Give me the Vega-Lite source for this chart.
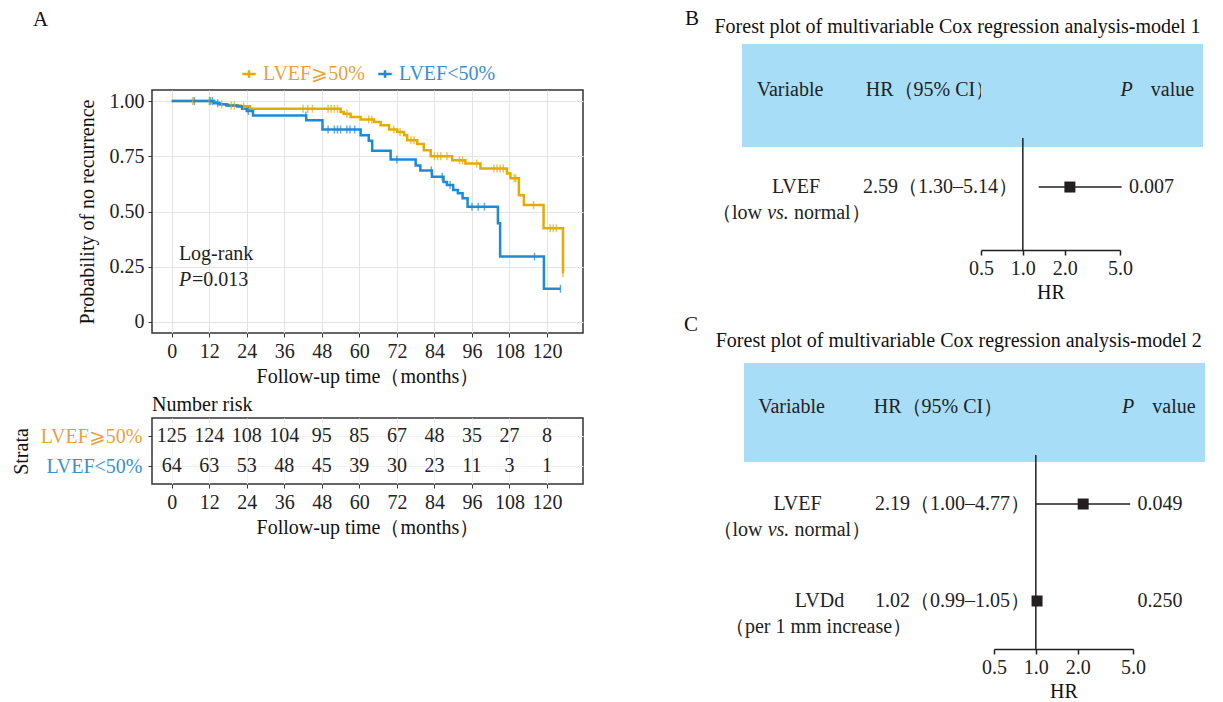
{
  "$schema": "https://vega.github.io/schema/vega-lite/v6.json",
  "background": "white",
  "padding": {"left": 10, "top": 7, "right": 0, "bottom": 0},
  "datasets": {
    "one": [{}],
    "km": [
      {"group": "LVEF⩾50%", "t": 0, "s": 1.0}, {"group": "LVEF⩾50%", "t": 13, "s": 0.995}, {"group": "LVEF⩾50%", "t": 15, "s": 0.985},
      {"group": "LVEF⩾50%", "t": 18, "s": 0.98}, {"group": "LVEF⩾50%", "t": 22, "s": 0.976}, {"group": "LVEF⩾50%", "t": 25, "s": 0.965},
      {"group": "LVEF⩾50%", "t": 54, "s": 0.95}, {"group": "LVEF⩾50%", "t": 55, "s": 0.943}, {"group": "LVEF⩾50%", "t": 57.2, "s": 0.928},
      {"group": "LVEF⩾50%", "t": 60.4, "s": 0.916}, {"group": "LVEF⩾50%", "t": 64.7, "s": 0.905}, {"group": "LVEF⩾50%", "t": 66.8, "s": 0.89},
      {"group": "LVEF⩾50%", "t": 69.5, "s": 0.871}, {"group": "LVEF⩾50%", "t": 72.1, "s": 0.86}, {"group": "LVEF⩾50%", "t": 74.3, "s": 0.845},
      {"group": "LVEF⩾50%", "t": 75.3, "s": 0.822}, {"group": "LVEF⩾50%", "t": 78.5, "s": 0.805}, {"group": "LVEF⩾50%", "t": 80.6, "s": 0.777},
      {"group": "LVEF⩾50%", "t": 82.8, "s": 0.75}, {"group": "LVEF⩾50%", "t": 89.7, "s": 0.732}, {"group": "LVEF⩾50%", "t": 93.9, "s": 0.717},
      {"group": "LVEF⩾50%", "t": 98.7, "s": 0.695}, {"group": "LVEF⩾50%", "t": 107.2, "s": 0.672}, {"group": "LVEF⩾50%", "t": 108.3, "s": 0.65},
      {"group": "LVEF⩾50%", "t": 111, "s": 0.574}, {"group": "LVEF⩾50%", "t": 112.6, "s": 0.529}, {"group": "LVEF⩾50%", "t": 118.9, "s": 0.424},
      {"group": "LVEF⩾50%", "t": 125.1, "s": 0.221},
      {"group": "LVEF<50%", "t": 0, "s": 1.0}, {"group": "LVEF<50%", "t": 13.6, "s": 0.99}, {"group": "LVEF<50%", "t": 15.5, "s": 0.985},
      {"group": "LVEF<50%", "t": 17.5, "s": 0.98}, {"group": "LVEF<50%", "t": 21, "s": 0.975}, {"group": "LVEF<50%", "t": 22.5, "s": 0.965},
      {"group": "LVEF<50%", "t": 24, "s": 0.955}, {"group": "LVEF<50%", "t": 26, "s": 0.935}, {"group": "LVEF<50%", "t": 43, "s": 0.913},
      {"group": "LVEF<50%", "t": 48.2, "s": 0.871}, {"group": "LVEF<50%", "t": 60.4, "s": 0.845}, {"group": "LVEF<50%", "t": 63, "s": 0.82},
      {"group": "LVEF<50%", "t": 64.1, "s": 0.775}, {"group": "LVEF<50%", "t": 70, "s": 0.735}, {"group": "LVEF<50%", "t": 78, "s": 0.708},
      {"group": "LVEF<50%", "t": 79.5, "s": 0.686}, {"group": "LVEF<50%", "t": 83.2, "s": 0.657}, {"group": "LVEF<50%", "t": 86.9, "s": 0.634},
      {"group": "LVEF<50%", "t": 88, "s": 0.62}, {"group": "LVEF<50%", "t": 90, "s": 0.597}, {"group": "LVEF<50%", "t": 91.5, "s": 0.583},
      {"group": "LVEF<50%", "t": 93, "s": 0.56}, {"group": "LVEF<50%", "t": 94.6, "s": 0.522}, {"group": "LVEF<50%", "t": 104.3, "s": 0.447},
      {"group": "LVEF<50%", "t": 105, "s": 0.296}, {"group": "LVEF<50%", "t": 119, "s": 0.15}, {"group": "LVEF<50%", "t": 124.3, "s": 0.15}
    ],
    "censor": [
      {"group": "LVEF⩾50%", "t": 6.7, "s": 1.0}, {"group": "LVEF⩾50%", "t": 12, "s": 1.0}, {"group": "LVEF⩾50%", "t": 16, "s": 0.985},
      {"group": "LVEF⩾50%", "t": 19, "s": 0.98}, {"group": "LVEF⩾50%", "t": 20, "s": 0.98}, {"group": "LVEF⩾50%", "t": 23, "s": 0.976},
      {"group": "LVEF⩾50%", "t": 42, "s": 0.965}, {"group": "LVEF⩾50%", "t": 43.5, "s": 0.965}, {"group": "LVEF⩾50%", "t": 45, "s": 0.965},
      {"group": "LVEF⩾50%", "t": 50, "s": 0.965}, {"group": "LVEF⩾50%", "t": 51, "s": 0.965}, {"group": "LVEF⩾50%", "t": 52, "s": 0.965},
      {"group": "LVEF⩾50%", "t": 53, "s": 0.965}, {"group": "LVEF⩾50%", "t": 56, "s": 0.943}, {"group": "LVEF⩾50%", "t": 63, "s": 0.916},
      {"group": "LVEF⩾50%", "t": 64, "s": 0.916}, {"group": "LVEF⩾50%", "t": 71, "s": 0.871}, {"group": "LVEF⩾50%", "t": 73, "s": 0.86},
      {"group": "LVEF⩾50%", "t": 76.5, "s": 0.822}, {"group": "LVEF⩾50%", "t": 77.5, "s": 0.822}, {"group": "LVEF⩾50%", "t": 84, "s": 0.75},
      {"group": "LVEF⩾50%", "t": 85, "s": 0.75}, {"group": "LVEF⩾50%", "t": 86, "s": 0.75}, {"group": "LVEF⩾50%", "t": 88, "s": 0.75},
      {"group": "LVEF⩾50%", "t": 92, "s": 0.732}, {"group": "LVEF⩾50%", "t": 93, "s": 0.732}, {"group": "LVEF⩾50%", "t": 97.5, "s": 0.717},
      {"group": "LVEF⩾50%", "t": 103, "s": 0.695}, {"group": "LVEF⩾50%", "t": 104, "s": 0.695}, {"group": "LVEF⩾50%", "t": 105, "s": 0.695},
      {"group": "LVEF⩾50%", "t": 106, "s": 0.695}, {"group": "LVEF⩾50%", "t": 109.5, "s": 0.65}, {"group": "LVEF⩾50%", "t": 110, "s": 0.65},
      {"group": "LVEF⩾50%", "t": 115.7, "s": 0.529}, {"group": "LVEF⩾50%", "t": 121, "s": 0.424}, {"group": "LVEF⩾50%", "t": 122, "s": 0.424},
      {"group": "LVEF⩾50%", "t": 123, "s": 0.424}, {"group": "LVEF⩾50%", "t": 125.1, "s": 0.221},
      {"group": "LVEF<50%", "t": 7.2, "s": 1.0}, {"group": "LVEF<50%", "t": 12.3, "s": 1.0}, {"group": "LVEF<50%", "t": 13, "s": 1.0},
      {"group": "LVEF<50%", "t": 14.7, "s": 0.99}, {"group": "LVEF<50%", "t": 24.5, "s": 0.955}, {"group": "LVEF<50%", "t": 42.9, "s": 0.935},
      {"group": "LVEF<50%", "t": 50, "s": 0.871}, {"group": "LVEF<50%", "t": 52, "s": 0.871}, {"group": "LVEF<50%", "t": 53, "s": 0.871},
      {"group": "LVEF<50%", "t": 54, "s": 0.871}, {"group": "LVEF<50%", "t": 56, "s": 0.871}, {"group": "LVEF<50%", "t": 57, "s": 0.871},
      {"group": "LVEF<50%", "t": 58.5, "s": 0.871}, {"group": "LVEF<50%", "t": 72, "s": 0.735}, {"group": "LVEF<50%", "t": 83, "s": 0.686},
      {"group": "LVEF<50%", "t": 86.5, "s": 0.657}, {"group": "LVEF<50%", "t": 89, "s": 0.62}, {"group": "LVEF<50%", "t": 96, "s": 0.522},
      {"group": "LVEF<50%", "t": 98, "s": 0.522}, {"group": "LVEF<50%", "t": 100, "s": 0.522}, {"group": "LVEF<50%", "t": 116, "s": 0.296},
      {"group": "LVEF<50%", "t": 124.3, "s": 0.15}
    ],
    "risk": [
      {"strata": "LVEF⩾50%", "t": 0, "n": 125}, {"strata": "LVEF⩾50%", "t": 12, "n": 124}, {"strata": "LVEF⩾50%", "t": 24, "n": 108},
      {"strata": "LVEF⩾50%", "t": 36, "n": 104}, {"strata": "LVEF⩾50%", "t": 48, "n": 95}, {"strata": "LVEF⩾50%", "t": 60, "n": 85},
      {"strata": "LVEF⩾50%", "t": 72, "n": 67}, {"strata": "LVEF⩾50%", "t": 84, "n": 48}, {"strata": "LVEF⩾50%", "t": 96, "n": 35},
      {"strata": "LVEF⩾50%", "t": 108, "n": 27}, {"strata": "LVEF⩾50%", "t": 120, "n": 8},
      {"strata": "LVEF<50%", "t": 0, "n": 64}, {"strata": "LVEF<50%", "t": 12, "n": 63}, {"strata": "LVEF<50%", "t": 24, "n": 53},
      {"strata": "LVEF<50%", "t": 36, "n": 48}, {"strata": "LVEF<50%", "t": 48, "n": 45}, {"strata": "LVEF<50%", "t": 60, "n": 39},
      {"strata": "LVEF<50%", "t": 72, "n": 30}, {"strata": "LVEF<50%", "t": 84, "n": 23}, {"strata": "LVEF<50%", "t": 96, "n": 11},
      {"strata": "LVEF<50%", "t": 108, "n": 3}, {"strata": "LVEF<50%", "t": 120, "n": 1}
    ],
    "m1": [
      {"row": 1, "var": "LVEF", "sub": "", "sub_a": "（low", "sub_i": "vs.", "sub_b": "normal）", "hr_text": "2.59（1.30–5.14）", "est": 2.18, "lo": 1.30, "hi": 5.14, "p": "0.007"}
    ],
    "m2": [
      {"row": 1, "var": "LVEF", "sub": "", "sub_a": "（low", "sub_i": "vs.", "sub_b": "normal）", "hr_text": "2.19（1.00–4.77）", "est": 2.19, "lo": 1.00, "hi": 4.77, "p": "0.049"},
      {"row": 2, "var": "LVDd", "sub": "（per 1 mm increase）", "sub_a": "", "sub_i": "", "sub_b": "", "hr_text": "1.02（0.99–1.05）", "est": 1.02, "lo": 0.99, "hi": 1.05, "p": "0.250"}
    ]
  },
  "spacing": 100,
  "resolve": {"legend": {"color": "independent"}},
  "hconcat": [
    {
      "spacing": 7,
      "resolve": {"legend": {"color": "independent"}},
      "vconcat": [
        {"width": 431, "height": 4, "title": {"text": "A", "anchor": "start", "frame": "group", "fontSize": 21, "offset": 6, "dx": -119},
         "data": {"name": "one"}, "mark": {"type": "text", "text": ""}},
        {
          "width": 431, "height": 243,
          "view": {"stroke": "#333333", "strokeWidth": 1.5},
          "layer": [
            {
              "data": {"name": "km"},
              "mark": {"type": "line", "interpolate": "step-after", "strokeWidth": 2.5},
              "encoding": {
                "x": {"field": "t", "type": "quantitative", "scale": {"domain": [-6.3, 131.5], "nice": false, "zero": false},
                  "axis": {"title": "Follow-up time（months）", "values": [0,6,12,18,24,30,36,42,48,54,60,66,72,78,84,90,96,102,108,114,120,126],
                    "labelExpr": "datum.value % 12 === 0 ? datum.label : ''",
                    "tickOpacity": {"condition": {"test": "datum.value % 12 === 0", "value": 1}, "value": 0},
                    "gridColor": {"condition": {"test": "datum.value % 12 === 0", "value": "#E4E4E4"}, "value": "#F3F3F3"},
                    "grid": true, "domain": false, "tickSize": 4, "labelPadding": 4, "titlePadding": 5}},
                "y": {"field": "s", "type": "quantitative", "scale": {"domain": [-0.05, 1.05], "nice": false, "zero": false},
                  "axis": {"title": "Probability of no recurrence", "values": [0,0.125,0.25,0.375,0.5,0.625,0.75,0.875,1],
                    "labelExpr": "datum.value === 0 ? '0' : ((datum.value * 4) % 1 === 0 ? format(datum.value, '.2f') : '')",
                    "tickOpacity": {"condition": {"test": "(datum.value * 4) % 1 === 0", "value": 1}, "value": 0},
                    "gridColor": {"condition": {"test": "(datum.value * 4) % 1 === 0", "value": "#E4E4E4"}, "value": "#F3F3F3"},
                    "grid": true, "domain": false, "tickSize": 4, "labelPadding": 4, "titlePadding": 12}},
                "color": {"field": "group", "type": "nominal",
                  "scale": {"domain": ["LVEF⩾50%", "LVEF<50%"], "range": ["#E6AB00", "#1D8AD8"]},
                  "legend": {"orient": "top", "direction": "horizontal", "title": null,
                    "symbolType": "M-1,0L1,0M0,-0.55L0,0.55", "symbolStrokeWidth": 2.5, "symbolSize": 180,
                    "labelFontSize": 20, "labelOffset": 4, "columnPadding": 8, "offset": 6,
                    "labelColor": {"expr": "datum.value === 'LVEF⩾50%' ? '#E9A23B' : '#3A8ED6'"}}}
              }
            },
            {
              "data": {"name": "censor"},
              "mark": {"type": "tick", "orient": "vertical", "size": 8, "thickness": 1.5},
              "encoding": {
                "x": {"field": "t", "type": "quantitative"},
                "y": {"field": "s", "type": "quantitative"},
                "color": {"field": "group", "type": "nominal", "legend": null}
              }
            },
            {
              "data": {"name": "one"},
              "mark": {"type": "text", "text": "Log-rank", "align": "left", "fontSize": 20},
              "encoding": {"x": {"datum": 2.3, "type": "quantitative"}, "y": {"datum": 0.308, "type": "quantitative"}}
            },
            {
              "data": {"name": "one"},
              "mark": {"type": "text", "text": "P", "align": "left", "fontStyle": "italic", "fontSize": 20},
              "encoding": {"x": {"datum": 2.3, "type": "quantitative"}, "y": {"datum": 0.19, "type": "quantitative"}}
            },
            {
              "data": {"name": "one"},
              "mark": {"type": "text", "text": "=0.013", "align": "left", "dx": 13, "fontSize": 20},
              "encoding": {"x": {"datum": 2.3, "type": "quantitative"}, "y": {"datum": 0.19, "type": "quantitative"}}
            }
          ]
        },
        {
          "width": 431, "height": 66,
          "view": {"stroke": "#333333", "strokeWidth": 1.5},
          "title": {"text": "Number risk", "anchor": "start", "frame": "group", "offset": 3, "fontSize": 20},
          "data": {"name": "risk"},
          "mark": {"type": "text", "fontSize": 20},
          "encoding": {
            "x": {"field": "t", "type": "quantitative", "scale": {"domain": [-6.3, 131.5], "nice": false, "zero": false},
              "axis": {"title": "Follow-up time（months）", "values": [0,12,24,36,48,60,72,84,96,108,120], "grid": true, "gridColor": "#F1F1F1",
                "domain": false, "tickSize": 4, "labelPadding": 4, "titlePadding": 5}},
            "y": {"field": "strata", "type": "nominal", "scale": {"domain": ["LVEF⩾50%", "LVEF<50%"], "padding": 0.6},
              "axis": {"title": "Strata", "domain": false, "tickSize": 4, "grid": true, "gridColor": "#F1F1F1", "titlePadding": 9, "labelPadding": 6,
                "labelColor": {"condition": {"test": "datum.value === 'LVEF⩾50%'", "value": "#E9A23B"}, "value": "#3A8ED6"}}},
            "text": {"field": "n", "type": "quantitative"}
          }
        }
      ]
    },
    {
      "spacing": 12,
      "vconcat": [
        {
          "spacing": 12,
          "hconcat": [
            {"width": 16, "height": 1, "title": {"text": "B", "anchor": "middle", "fontSize": 21, "offset": 6}, "data": {"name": "one"}, "mark": {"type": "text", "text": ""}},
            {
              "title": {"text": "Forest plot of multivariable Cox regression analysis-model 1", "anchor": "middle", "offset": 7, "fontSize": 20},
              "spacing": 0,
              "bounds": "flush",
              "hconcat": [
                {
                  "width": 122, "height": 206,
                  "layer": [
                    {"data": {"name": "one"}, "mark": {"type": "rect", "color": "#A8DDF7"},
                     "encoding": {"y": {"datum": -0.474, "type": "quantitative", "scale": {"domain": [-0.474, 1.649], "reverse": true, "nice": false, "zero": false}, "axis": null}, "y2": {"datum": 0.588}}},
                    {"data": {"name": "one"}, "mark": {"type": "text", "text": "Variable", "dx": -13},
                     "encoding": {"y": {"datum": 0, "type": "quantitative", "axis": null}}},
                    {"data": {"name": "m1"}, "mark": {"type": "text", "dx": -7},
                     "encoding": {"y": {"field": "row", "type": "quantitative", "axis": null}, "text": {"field": "var"}}},
                    {"data": {"name": "m1"}, "mark": {"type": "text", "align": "right", "dx": -41, "dy": 26},
                     "encoding": {"y": {"field": "row", "type": "quantitative", "axis": null}, "text": {"field": "sub_a"}}},
                    {"data": {"name": "m1"}, "mark": {"type": "text", "fontStyle": "italic", "dx": -25, "dy": 26},
                     "encoding": {"y": {"field": "row", "type": "quantitative", "axis": null}, "text": {"field": "sub_i"}}},
                    {"data": {"name": "m1"}, "mark": {"type": "text", "align": "left", "dx": -9, "dy": 26},
                     "encoding": {"y": {"field": "row", "type": "quantitative", "axis": null}, "text": {"field": "sub_b"}}}
                  ]
                },
                {
                  "width": 117, "height": 206,
                  "layer": [
                    {"data": {"name": "one"}, "mark": {"type": "rect", "color": "#A8DDF7"},
                     "encoding": {"y": {"datum": -0.474, "type": "quantitative", "scale": {"domain": [-0.474, 1.649], "reverse": true, "nice": false, "zero": false}, "axis": null}, "y2": {"datum": 0.588}}},
                    {"data": {"name": "one"}, "mark": {"type": "text", "text": "HR（95% CI）", "dx": 8},
                     "encoding": {"y": {"datum": 0, "type": "quantitative", "axis": null}}},
                    {"data": {"name": "m1"}, "mark": {"type": "text", "dx": 18},
                     "encoding": {"y": {"field": "row", "type": "quantitative", "axis": null}, "text": {"field": "hr_text"}}}
                  ]
                },
                {
                  "width": 139, "height": 206,
                  "layer": [
                    {"data": {"name": "one"}, "mark": {"type": "rect", "color": "#A8DDF7"},
                     "encoding": {"y": {"datum": -0.474, "type": "quantitative", "scale": {"domain": [-0.474, 1.649], "reverse": true, "nice": false, "zero": false}, "axis": null}, "y2": {"datum": 0.588}}},
                    {"data": {"name": "one"}, "mark": {"type": "rule", "color": "#231F20", "strokeWidth": 1.5},
                     "encoding": {
                       "x": {"datum": 1, "type": "quantitative", "scale": {"type": "log", "domain": [0.5, 5], "nice": false},
                         "axis": {"title": "HR", "values": [0.5, 1, 2, 5], "format": ".1f", "grid": false, "tickSize": 5, "labelPadding": 3, "titlePadding": 4,
                           "domainColor": "#231F20", "domainWidth": 1.5, "tickColor": "#231F20", "tickWidth": 1.5, "labelFlush": false}},
                       "y": {"datum": 0.495, "type": "quantitative", "axis": null}, "y2": {"datum": 1.649}}},
                    {"data": {"name": "m1"}, "mark": {"type": "rule", "color": "#231F20", "strokeWidth": 1.5},
                     "encoding": {"x": {"field": "lo", "type": "quantitative"}, "x2": {"field": "hi"}, "y": {"field": "row", "type": "quantitative", "axis": null}}},
                    {"data": {"name": "m1"}, "mark": {"type": "point", "shape": "square", "filled": true, "size": 121, "color": "#231F20", "opacity": 1},
                     "encoding": {"x": {"field": "est", "type": "quantitative"}, "y": {"field": "row", "type": "quantitative", "axis": null}}}
                  ]
                },
                {
                  "width": 83, "height": 206,
                  "layer": [
                    {"data": {"name": "one"}, "mark": {"type": "rect", "color": "#A8DDF7"},
                     "encoding": {"y": {"datum": -0.474, "type": "quantitative", "scale": {"domain": [-0.474, 1.649], "reverse": true, "nice": false, "zero": false}, "axis": null}, "y2": {"datum": 0.588}}},
                    {"data": {"name": "one"}, "mark": {"type": "text", "text": "P", "fontStyle": "italic", "dx": -35},
                     "encoding": {"y": {"datum": 0, "type": "quantitative", "axis": null}}},
                    {"data": {"name": "one"}, "mark": {"type": "text", "text": "value", "dx": 11},
                     "encoding": {"y": {"datum": 0, "type": "quantitative", "axis": null}}},
                    {"data": {"name": "m1"}, "mark": {"type": "text", "dx": -10},
                     "encoding": {"y": {"field": "row", "type": "quantitative", "axis": null}, "text": {"field": "p"}}}
                  ]
                }
              ]
            }
          ]
        },
        {
          "title": {"text": "C", "anchor": "start", "fontSize": 21, "offset": -4},
          "spacing": 12,
          "hconcat": [
            {"width": 16, "height": 20, "data": {"name": "one"}, "mark": {"type": "text", "text": ""}},
            {
              "title": {"text": "Forest plot of multivariable Cox regression analysis-model 2", "anchor": "middle", "offset": 12, "fontSize": 20},
              "spacing": 0,
              "bounds": "flush",
              "hconcat": [
                {
                  "width": 127, "height": 286,
                  "layer": [
                    {"data": {"name": "one"}, "mark": {"type": "rect", "color": "#A8DDF7"},
                     "encoding": {"y": {"datum": -0.454, "type": "quantitative", "scale": {"domain": [-0.454, 2.495], "reverse": true, "nice": false, "zero": false}, "axis": null}, "y2": {"datum": 0.567}}},
                    {"data": {"name": "one"}, "mark": {"type": "text", "text": "Variable", "dx": -16},
                     "encoding": {"y": {"datum": 0, "type": "quantitative", "axis": null}}},
                    {"data": {"name": "m2"}, "transform": [{"filter": "datum.row === 1"}], "mark": {"type": "text", "dx": -10},
                     "encoding": {"y": {"field": "row", "type": "quantitative", "axis": null}, "text": {"field": "var"}}},
                    {"data": {"name": "m2"}, "transform": [{"filter": "datum.row === 2"}], "mark": {"type": "text", "dx": 12},
                     "encoding": {"y": {"field": "row", "type": "quantitative", "axis": null}, "text": {"field": "var"}}},
                    {"data": {"name": "m2"}, "mark": {"type": "text", "dy": 26, "dx": 11},
                     "encoding": {"y": {"field": "row", "type": "quantitative", "axis": null}, "text": {"field": "sub"}}},
                    {"data": {"name": "m2"}, "mark": {"type": "text", "align": "right", "dx": -45, "dy": 26},
                     "encoding": {"y": {"field": "row", "type": "quantitative", "axis": null}, "text": {"field": "sub_a"}}},
                    {"data": {"name": "m2"}, "mark": {"type": "text", "fontStyle": "italic", "dx": -29, "dy": 26},
                     "encoding": {"y": {"field": "row", "type": "quantitative", "axis": null}, "text": {"field": "sub_i"}}},
                    {"data": {"name": "m2"}, "mark": {"type": "text", "align": "left", "dx": -13, "dy": 26},
                     "encoding": {"y": {"field": "row", "type": "quantitative", "axis": null}, "text": {"field": "sub_b"}}}
                  ]
                },
                {
                  "width": 123, "height": 286,
                  "layer": [
                    {"data": {"name": "one"}, "mark": {"type": "rect", "color": "#A8DDF7"},
                     "encoding": {"y": {"datum": -0.454, "type": "quantitative", "scale": {"domain": [-0.454, 2.495], "reverse": true, "nice": false, "zero": false}, "axis": null}, "y2": {"datum": 0.567}}},
                    {"data": {"name": "one"}, "mark": {"type": "text", "text": "HR（95% CI）", "dx": 6},
                     "encoding": {"y": {"datum": 0, "type": "quantitative", "axis": null}}},
                    {"data": {"name": "m2"}, "mark": {"type": "text", "dx": 20},
                     "encoding": {"y": {"field": "row", "type": "quantitative", "axis": null}, "text": {"field": "hr_text"}}}
                  ]
                },
                {
                  "width": 139, "height": 286,
                  "layer": [
                    {"data": {"name": "one"}, "mark": {"type": "rect", "color": "#A8DDF7"},
                     "encoding": {"y": {"datum": -0.454, "type": "quantitative", "scale": {"domain": [-0.454, 2.495], "reverse": true, "nice": false, "zero": false}, "axis": null}, "y2": {"datum": 0.567}}},
                    {"data": {"name": "one"}, "mark": {"type": "rule", "color": "#231F20", "strokeWidth": 1.5},
                     "encoding": {
                       "x": {"datum": 1, "type": "quantitative", "scale": {"type": "log", "domain": [0.5, 5], "nice": false},
                         "axis": {"title": "HR", "values": [0.5, 1, 2, 5], "format": ".1f", "grid": false, "tickSize": 5, "labelPadding": 3, "titlePadding": 4,
                           "domainColor": "#231F20", "domainWidth": 1.5, "tickColor": "#231F20", "tickWidth": 1.5, "labelFlush": false}},
                       "y": {"datum": 0.495, "type": "quantitative", "axis": null}, "y2": {"datum": 2.495}}},
                    {"data": {"name": "m2"}, "mark": {"type": "rule", "color": "#231F20", "strokeWidth": 1.5},
                     "encoding": {"x": {"field": "lo", "type": "quantitative"}, "x2": {"field": "hi"}, "y": {"field": "row", "type": "quantitative", "axis": null}}},
                    {"data": {"name": "m2"}, "mark": {"type": "point", "shape": "square", "filled": true, "size": 121, "color": "#231F20", "opacity": 1},
                     "encoding": {"x": {"field": "est", "type": "quantitative"}, "y": {"field": "row", "type": "quantitative", "axis": null}}}
                  ]
                },
                {
                  "width": 72, "height": 286,
                  "layer": [
                    {"data": {"name": "one"}, "mark": {"type": "rect", "color": "#A8DDF7"},
                     "encoding": {"y": {"datum": -0.454, "type": "quantitative", "scale": {"domain": [-0.454, 2.495], "reverse": true, "nice": false, "zero": false}, "axis": null}, "y2": {"datum": 0.567}}},
                    {"data": {"name": "one"}, "mark": {"type": "text", "text": "P", "fontStyle": "italic", "dx": -41},
                     "encoding": {"y": {"datum": 0, "type": "quantitative", "axis": null}}},
                    {"data": {"name": "one"}, "mark": {"type": "text", "text": "value", "dx": 5},
                     "encoding": {"y": {"datum": 0, "type": "quantitative", "axis": null}}},
                    {"data": {"name": "m2"}, "mark": {"type": "text", "dx": -9},
                     "encoding": {"y": {"field": "row", "type": "quantitative", "axis": null}, "text": {"field": "p"}}}
                  ]
                }
              ]
            }
          ]
        }
      ]
    }
  ],
  "config": {
    "font": "Liberation Serif",
    "view": {"stroke": null},
    "axis": {"labelFontSize": 20, "titleFontSize": 20, "titleFontWeight": "normal", "labelColor": "#222222", "titleColor": "#111111", "tickColor": "#333333"},
    "title": {"fontSize": 20, "fontWeight": "normal", "color": "#111111"},
    "text": {"fontSize": 20, "color": "#222222"},
    "legend": {"layout": {"top": {"anchor": "middle"}}}
  }
}
